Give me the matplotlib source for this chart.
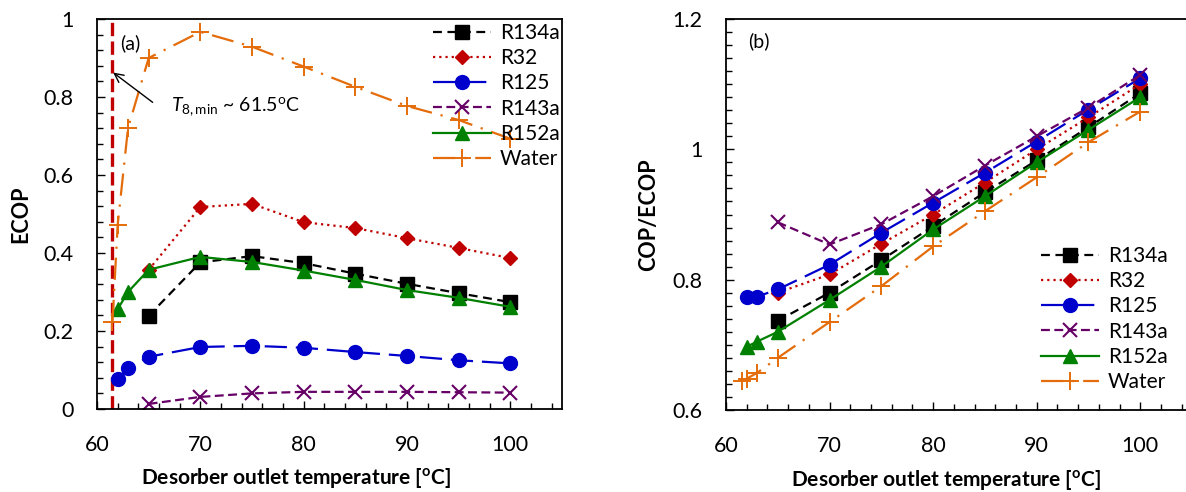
import matplotlib
matplotlib.use("Agg")
import matplotlib.pyplot as plt
from matplotlib.ticker import MultipleLocator, FuncFormatter

plt.rcParams['font.family'] = ['Lato', 'DejaVu Sans']
plt.rcParams['mathtext.fontset'] = 'custom'
plt.rcParams['mathtext.rm'] = 'Lato'
plt.rcParams['mathtext.it'] = 'Lato:italic'
plt.rcParams['mathtext.bf'] = 'Lato:bold'

# ---------------- data ----------------
fluids = ["R134a", "R32", "R125", "R143a", "R152a", "Water"]

x_65 = [65, 70, 75, 80, 85, 90, 95, 100]
x_62 = [62, 63, 65, 70, 75, 80, 85, 90, 95, 100]
x_water = [61.5, 62, 63, 65, 70, 75, 80, 85, 90, 95, 100]

# (a) ECOP
ecop_r134a = [0.239, 0.376, 0.392, 0.374, 0.347, 0.321, 0.297, 0.274]
ecop_r32 = [0.357, 0.518, 0.526, 0.479, 0.464, 0.438, 0.413, 0.387]
ecop_r125 = [0.077, 0.105, 0.134, 0.159, 0.162, 0.157, 0.146, 0.136, 0.125, 0.117]
ecop_r143a = [0.013, 0.031, 0.040, 0.044, 0.044, 0.044, 0.043, 0.042]
ecop_r152a = [0.256, 0.300, 0.357, 0.390, 0.377, 0.355, 0.331, 0.305, 0.285, 0.262]
ecop_water = [0.223, 0.472, 0.720, 0.900, 0.967, 0.929, 0.878, 0.826, 0.777, 0.741, 0.693]

# (b) COP/ECOP
ratio_r134a = [0.737, 0.780, 0.830, 0.882, 0.934, 0.983, 1.034, 1.086]
ratio_r32 = [0.780, 0.808, 0.855, 0.900, 0.949, 1.000, 1.049, 1.100]
ratio_r125 = [0.774, 0.774, 0.785, 0.823, 0.872, 0.918, 0.964, 1.012, 1.061, 1.109]
ratio_r143a = [0.888, 0.854, 0.885, 0.928, 0.975, 1.020, 1.064, 1.114]
ratio_r152a = [0.697, 0.705, 0.720, 0.769, 0.820, 0.877, 0.928, 0.980, 1.030, 1.080]
ratio_water = [0.645, 0.648, 0.657, 0.680, 0.735, 0.790, 0.851, 0.905, 0.957, 1.011, 1.058]

t8_min = 61.5

# ---------------- styles ----------------
styles = {
    "R134a": dict(color="black", marker="s", ms=9.5, ls=(0, (4, 2.5))),
    "R32": dict(color="#C00000", marker="D", ms=7.5, ls=(0, (1, 1.8))),
    "R125": dict(color="#0000CC", marker="o", ms=10, ls=(0, (10, 4))),
    "R143a": dict(color="#660066", marker="x", ms=10, mew=1.5, ls=(0, (4, 2))),
    "R152a": dict(color="#008000", marker="^", ms=10, ls="-"),
    "Water": dict(color="#E46C0A", marker="+", ms=13, mew=1.4, ls=(0, (10, 4, 1, 4))),
}

fig = plt.figure(figsize=(11.86, 4.92), dpi=100)
W, H = 1186, 492
axA = fig.add_axes([97 / W, (H - 409) / H, (562 - 97) / W, (409 - 19) / H])
axB = fig.add_axes([726 / W, (H - 410) / H, (1192 - 726) / W, (410 - 19) / H])


def fmt(v, pos):
    s = f"{v:.1f}"
    if s.endswith(".0"):
        s = s[:-2]
    return s


def style_axes(ax, ymin, ymax, yminor, ylabel, xlab_x):
    ax.set_xlim(60, 105)
    ax.set_ylim(ymin, ymax)
    ax.xaxis.set_major_locator(MultipleLocator(10))
    ax.xaxis.set_minor_locator(MultipleLocator(2))
    ax.yaxis.set_major_locator(MultipleLocator(0.2))
    ax.yaxis.set_minor_locator(MultipleLocator(yminor))
    ax.yaxis.set_major_formatter(FuncFormatter(fmt))
    ax.tick_params(which="both", direction="in", width=1.0, colors="black")
    ax.tick_params(which="major", length=6)
    ax.tick_params(which="minor", length=4)
    ax.tick_params(axis="x", which="major", pad=19, labelsize=15.5)
    ax.tick_params(axis="y", which="major", pad=17, labelsize=15.5)
    for sp in ax.spines.values():
        sp.set_linewidth(1.3)
        sp.set_color("black")
    ax.set_xlabel(r"Desorber outlet temperature [$^{\mathbf{o}}$C]", fontsize=15,
                  fontweight="bold", va="center")
    ax.xaxis.set_label_coords(xlab_x, -0.178)
    ax.set_ylabel(ylabel, fontsize=15.5, fontweight="bold", va="center")
    ax.yaxis.set_label_coords(-0.165, 0.5)


def add_legend(ax, x_px, y_px):
    ax.legend(loc="upper left", bbox_to_anchor=(x_px / W, (H - y_px) / H),
              bbox_transform=fig.transFigure, frameon=False, fontsize=15,
              borderaxespad=0, borderpad=0, handlelength=2.8, handletextpad=0.4,
              labelspacing=0.25)


# ---------------- panel (a) ----------------
series_a = {
    "R134a": (x_65, ecop_r134a),
    "R32": (x_65, ecop_r32),
    "R125": (x_62, ecop_r125),
    "R143a": (x_65, ecop_r143a),
    "R152a": (x_62, ecop_r152a),
    "Water": (x_water, ecop_water),
}
for name in fluids:
    xs, ys = series_a[name]
    st = styles[name]
    axA.plot(xs, ys, color=st["color"], marker=st["marker"], ms=st["ms"],
             mew=st.get("mew", 1.0), linestyle=st["ls"], lw=1.6, label=name)

axA.axvline(t8_min, color="#C00000", lw=2.4, linestyle=(0, (4, 1.6)), zorder=1)
axA.annotate("", xy=(61.35, 0.867), xytext=(65.6, 0.782),
             arrowprops=dict(arrowstyle="->", color="black", lw=1.0, mutation_scale=16))
axA.text(67.2, 0.774, r"$T_{\mathrm{8,min}}$ ~ 61.5$^{\mathrm{o}}$C", fontsize=14,
         ha="left", va="center")
axA.text(63.2, 0.937, "(a)", fontsize=14, ha="center", va="center")

style_axes(axA, 0, 1, 0.04, "ECOP", 0.428)
add_legend(axA, 433, 23)

# ---------------- panel (b) ----------------
series_b = {
    "R134a": (x_65, ratio_r134a),
    "R32": (x_65, ratio_r32),
    "R125": (x_62, ratio_r125),
    "R143a": (x_65, ratio_r143a),
    "R152a": (x_62, ratio_r152a),
    "Water": (x_water, ratio_water),
}
for name in fluids:
    xs, ys = series_b[name]
    st = styles[name]
    axB.plot(xs, ys, color=st["color"], marker=st["marker"], ms=st["ms"],
             mew=st.get("mew", 1.0), linestyle=st["ls"], lw=1.6, label=name)

axB.text(63.2, 1.166, "(b)", fontsize=14, ha="center", va="center")
style_axes(axB, 0.6, 1.2, 0.02, "COP/ECOP", 0.472)
axB.spines["right"].set_visible(False)
add_legend(axB, 1041, 246)

fig.savefig("out.png", dpi=100)
